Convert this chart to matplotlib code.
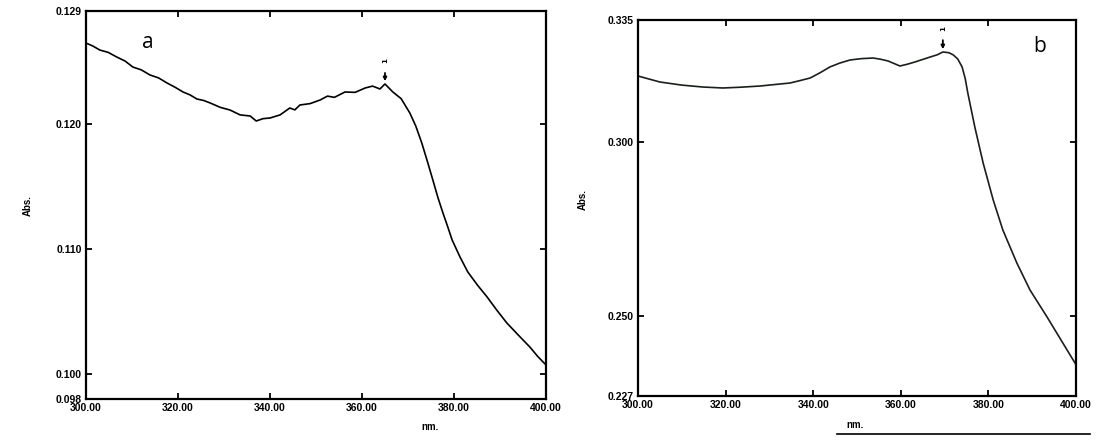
import matplotlib
matplotlib.use('Agg')
import matplotlib.pyplot as plt
from matplotlib.lines import Line2D
import numpy as np

# spectrum a
nm_a = [300.0, 301.5, 303.0, 304.8, 306.7, 308.5, 310.2, 312.0, 313.9, 315.8, 317.6, 319.4,
        321.1, 322.6, 324.1, 325.6, 327.0, 329.2, 331.3, 333.5, 335.7, 337.0, 338.5, 340.0,
        342.2, 344.3, 345.4, 346.5, 348.7, 350.9, 352.5, 354.0, 356.3, 358.5, 360.7, 362.3,
        363.9, 365.0, 366.7, 368.5, 370.4, 371.7, 373.0, 374.2, 375.4, 376.5, 377.6, 378.6,
        379.6, 381.3, 383.0, 385.1, 387.2, 389.3, 391.5, 394.0, 396.5, 398.2, 400.0]
abs_a = [0.12644, 0.12620, 0.12588, 0.12570, 0.12532, 0.12500, 0.12452, 0.12430, 0.12389,
         0.12365, 0.12325, 0.12290, 0.12253, 0.12230, 0.12197, 0.12185, 0.12165, 0.12130,
         0.12109, 0.12070, 0.12061, 0.12021, 0.12040, 0.12045, 0.12070, 0.12125, 0.12110,
         0.12149, 0.12160, 0.12189, 0.12220, 0.12210, 0.12253, 0.12250, 0.12285, 0.12300,
         0.12277, 0.12317, 0.12253, 0.12200, 0.12085, 0.11980, 0.11845, 0.11700, 0.11550,
         0.11410, 0.11286, 0.11180, 0.11070, 0.10935, 0.10815, 0.10710, 0.10615, 0.10510,
         0.10407, 0.10310, 0.10215, 0.10140, 0.10072]

# spectrum b
nm_b = [300.0, 305.0, 310.0, 314.8, 319.4, 323.5, 327.9, 331.5, 334.7, 337.0, 339.3, 341.5,
        343.8, 346.0, 348.4, 351.0, 353.7, 355.5, 357.1, 359.8, 361.5, 363.2, 366.7, 368.3,
        369.6, 371.0, 372.0, 373.0, 374.0, 374.7, 375.3, 376.9, 378.8, 381.1, 383.3, 386.5,
        389.5, 393.4, 397.0, 400.0]
abs_b = [0.31891, 0.31719, 0.31630, 0.31575, 0.31547, 0.31570, 0.31604, 0.31650, 0.31690,
         0.31760, 0.31834, 0.31980, 0.32150, 0.32260, 0.32351, 0.32390, 0.32408, 0.32370,
         0.32322, 0.32179, 0.32230, 0.32293, 0.32437, 0.32500, 0.32581, 0.32560, 0.32495,
         0.32380, 0.32150, 0.31820, 0.31403, 0.30426, 0.29392, 0.28329, 0.27467, 0.26519,
         0.25744, 0.24968, 0.24221, 0.23600]

xticks = [300, 320, 340, 360, 380, 400]
xticklabels = ['300.00', '320.00', '340.00', '360.00', '380.00', '400.00']
yticks_a = [0.098, 0.100, 0.110, 0.120, 0.129]
yticks_b = [0.227, 0.250, 0.300, 0.335]
peak_a = [365.0, 0.12317]
peak_b = [369.6, 0.32581]

tickfont = {'family': ['Liberation Sans Narrow', 'Liberation Sans'], 'weight': 'bold', 'size': 7.5}
labfont = {'family': ['Liberation Sans'], 'weight': 'bold', 'size': 7}

fig = plt.figure(figsize=(11.05, 4.48), dpi=100)
ax_a = fig.add_axes([86/1105, 49/448, 460/1105, 388/448])
ax_b = fig.add_axes([638/1105, 52/448, 438/1105, 376/448])


def style_axis(ax, yticks, ylim):
    ax.set_xlim(300, 400)
    ax.set_ylim(ylim)
    ax.set_xticks(xticks)
    ax.set_xticklabels(xticklabels, **tickfont)
    ax.set_yticks(yticks)
    ax.set_yticklabels(['%.3f' % v for v in yticks], **tickfont)
    ax.tick_params(direction='in', top=True, right=True, length=4, width=1.3, pad=3)
    for s in ax.spines.values():
        s.set_linewidth(1.6)
    # no tick marks at the corner values
    for t in ax.xaxis.get_major_ticks()[::5]:
        t.tick1line.set_visible(False)
        t.tick2line.set_visible(False)
    for t in [ax.yaxis.get_major_ticks()[0], ax.yaxis.get_major_ticks()[-1]]:
        t.tick1line.set_visible(False)
        t.tick2line.set_visible(False)


ax_a.plot(nm_a, abs_a, color='black', lw=1.2)
style_axis(ax_a, yticks_a, (0.098, 0.129))
ax_a.annotate('', xy=(peak_a[0], peak_a[1]), xytext=(peak_a[0], peak_a[1] + 0.0011),
              arrowprops=dict(arrowstyle='-|>', color='black', lw=1.3, mutation_scale=5))
ax_a.text(peak_a[0], peak_a[1] + 0.0019, '1', rotation=90, ha='center', va='center',
          fontsize=5, fontweight='bold')
ax_a.text(0.135, 0.92, 'a', transform=ax_a.transAxes, fontsize=15, family='Open Sans',
          ha='center', va='center')

ax_b.plot(nm_b, abs_b, color='#1a1f1a', lw=1.2)
style_axis(ax_b, yticks_b, (0.227, 0.335))
ax_b.annotate('', xy=(peak_b[0], peak_b[1]), xytext=(peak_b[0], peak_b[1] + 0.0042),
              arrowprops=dict(arrowstyle='-|>', color='black', lw=1.3, mutation_scale=5))
ax_b.text(peak_b[0], peak_b[1] + 0.0068, '1', rotation=90, ha='center', va='center',
          fontsize=5, fontweight='bold')
ax_b.text(0.917, 0.93, 'b', transform=ax_b.transAxes, fontsize=15, family='Open Sans',
          ha='center', va='center')

fig.text(28/1105, 1 - 205/448, 'Abs.', rotation=90, ha='center', va='center', **labfont)
fig.text(583/1105, 1 - 200/448, 'Abs.', rotation=90, ha='center', va='center', **labfont)
fig.text(430/1105, 1 - 427/448, 'nm.', ha='center', va='center', **labfont)
fig.text(855/1105, 1 - 425/448, 'nm.', ha='center', va='center', **labfont)
fig.add_artist(Line2D([837/1105, 1090/1105], [1 - 434/448, 1 - 434/448], color='black', lw=1.2))

fig.savefig('out.png', dpi=100)
